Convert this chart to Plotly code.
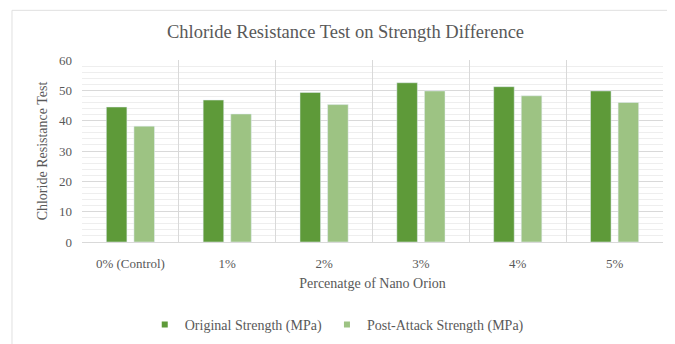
import plotly.graph_objects as go

categories = ["0% (Control)", "1%", "2%", "3%", "4%", "5%"]
original_strength = [44.5, 46.8, 49.3, 52.5, 51.2, 49.8]
post_attack_strength = [38.2, 42.2, 45.3, 49.8, 48.2, 46.0]
series_names = ["Original Strength (MPa)", "Post-Attack Strength (MPa)"]
colors = ["#5e9a39", "#9dc383"]

font = "Liberation Serif"
txt = "#595959"

fig = go.Figure()
fig.add_trace(go.Bar(x=categories, y=original_strength, name=series_names[0],
                     marker=dict(color=colors[0]), showlegend=False))
fig.add_trace(go.Bar(x=categories, y=post_attack_strength, name=series_names[1],
                     marker=dict(color=colors[1]), showlegend=False))
for nm, c in zip(series_names, colors):
    fig.add_trace(go.Scatter(x=[None], y=[None], mode="markers", name=nm,
                             marker=dict(symbol="square", size=6, color=c)))

fig.update_layout(
    width=675, height=344,
    margin=dict(l=74, r=20, t=52, b=109),
    paper_bgcolor="white", plot_bgcolor="white",
    font=dict(family=font, size=13, color=txt),
    title=dict(text="Chloride Resistance Test on Strength Difference", x=0.5, xanchor="center",
               y=1 - 24 / 344, yanchor="middle", font=dict(size=18.5, color=txt, family=font)),
    barmode="group", bargap=0.43, bargroupgap=0.255,
    legend=dict(orientation="h", x=0.108, xanchor="left", y=-(317 - 235) / 183, yanchor="middle",
                font=dict(size=14, color=txt, family=font), itemwidth=30, traceorder="normal"),
    xaxis=dict(showgrid=True, gridcolor="#d9d9d9", tickson="boundaries", ticks="",
               showline=True, linecolor="#d9d9d9", ticklabelstandoff=9,
               tickfont=dict(family=font, size=13, color=txt),
               title=dict(text="Percenatge of Nano Orion", standoff=8,
                          font=dict(size=14, family=font, color=txt))),
    yaxis=dict(range=[0, 60], dtick=10, showgrid=True, gridcolor="#d9d9d9",
               minor=dict(dtick=2, showgrid=True, gridcolor="#eeeeee"),
               zeroline=False, ticks="", ticklabelstandoff=9,
               tickfont=dict(family=font, size=13, color=txt),
               title=dict(text="Chloride Resistance Test", standoff=8,
                          font=dict(size=14, family=font, color=txt))),
    shapes=[dict(type="rect", xref="paper", yref="paper", x0=-0.1205, x1=1.1, y0=-0.8, y1=1.273,
                 line=dict(color="#e0e0e0", width=1))],
)

fig.write_html("out.html")
